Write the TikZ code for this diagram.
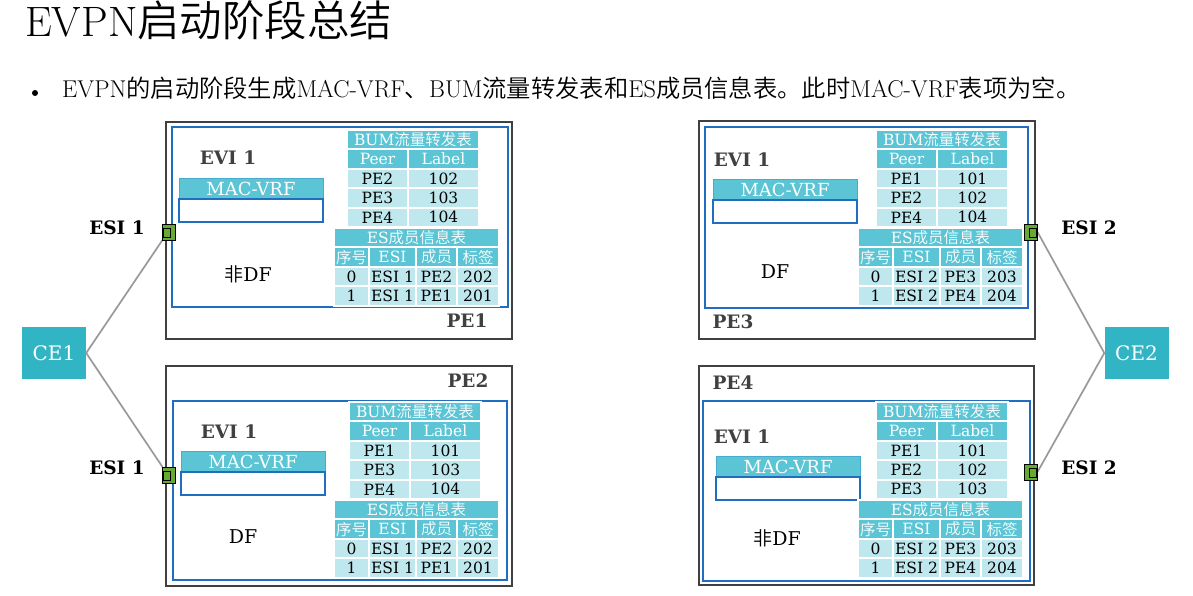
\documentclass[tikz,border=0pt]{standalone}
\usepackage{fontspec}
\newfontfamily\dvs{DejaVu Serif}
\IfFontExistsTF{Noto Sans CJK SC DemiLight}
  {\newfontfamily\cjk{Noto Sans CJK SC DemiLight}}
  {\newfontfamily\cjk{Noto Sans CJK SC Light}}
\usetikzlibrary{positioning}

\definecolor{headteal}{HTML}{5BC5D5}
\definecolor{lightteal}{HTML}{BEE8EE}
\definecolor{ceteal}{HTML}{31B5C4}
\definecolor{evpnblue}{HTML}{1F6EC0}
\definecolor{boxgray}{HTML}{404040}
\definecolor{portgreen}{HTML}{66AA33}
\definecolor{linkgray}{HTML}{999999}

\tikzset{
  outerbox/.style={draw=boxgray, line width=1.2pt},
  innerbox/.style={draw=evpnblue, line width=1.2pt},
  hcell/.style={fill=headteal, draw=white, line width=2pt, text=white, inner sep=0pt,
    outer sep=0pt, minimum height=19.4pt, font=\dvs\fontsize{15.5}{17}\selectfont},
  dcell/.style={hcell, fill=lightteal, text=black},
  vrfhead/.style={fill=headteal, draw=headteal!70!evpnblue, line width=0.8pt, text=white,
    inner sep=0pt, outer sep=0pt, minimum width=144pt, minimum height=21pt,
    font=\dvs\fontsize{18}{20}\selectfont},
  vrfbody/.style={draw=evpnblue, line width=1.2pt, inner sep=0pt, outer sep=0pt,
    minimum width=144pt, minimum height=23pt},
  devlabel/.style={text=boxgray, font=\dvs\bfseries\fontsize{18.5}{20}\selectfont},
  esilabel/.style={text=black, font=\dvs\bfseries\fontsize{18.5}{20}\selectfont},
  dflabel/.style={text=black, font=\dvs\fontsize{19}{22}\selectfont},
  ce/.style={fill=ceteal, text=white, minimum width=64pt, minimum height=52pt,
    font=\dvs\fontsize{20}{24}\selectfont},
  port/.style={fill=portgreen, draw=black, line width=0.8pt, minimum width=13pt,
    minimum height=16pt, inner sep=0pt, outer sep=0pt},
  link/.style={draw=linkgray, line width=1.7pt}
}

% BUM forwarding table: name, x, y, then three peer/label pairs
\newcommand\bumtable[9]{%
  \node[hcell, minimum width=132pt, anchor=north west] (#1-h) at (#2,#3) {BUM{\cjk 流量转发表}};
  \node[hcell, minimum width=61pt, anchor=north west] (#1-c1) at (#1-h.south west) {Peer};
  \node[hcell, minimum width=71pt, right=0pt of #1-c1] (#1-c2) {Label};
  \node[dcell, minimum width=61pt, below=0pt of #1-c1] (#1-p1) {#4};
  \node[dcell, minimum width=71pt, right=0pt of #1-p1] (#1-l1) {#5};
  \node[dcell, minimum width=61pt, below=0pt of #1-p1] (#1-p2) {#6};
  \node[dcell, minimum width=71pt, right=0pt of #1-p2] (#1-l2) {#7};
  \node[dcell, minimum width=61pt, below=0pt of #1-p2] (#1-p3) {#8};
  \node[dcell, minimum width=71pt, right=0pt of #1-p3] (#1-l3) {#9};
}

% ES member table: name, x, y, esi, member/label of rows 0 and 1
\newcommand\estable[8]{%
  \node[hcell, minimum width=165pt, anchor=north west] (#1-h) at (#2,#3) {ES{\cjk 成员信息表}};
  \node[hcell, minimum width=35pt, anchor=north west] (#1-c1) at (#1-h.south west) {\cjk 序号};
  \node[hcell, minimum width=47pt, right=0pt of #1-c1] (#1-c2) {ESI};
  \node[hcell, minimum width=41pt, right=0pt of #1-c2] (#1-c3) {\cjk 成员};
  \node[hcell, minimum width=42pt, right=0pt of #1-c3] (#1-c4) {\cjk 标签};
  \node[dcell, minimum width=35pt, below=0pt of #1-c1] (#1-a1) {0};
  \node[dcell, minimum width=47pt, right=0pt of #1-a1] (#1-b1) {#4};
  \node[dcell, minimum width=41pt, right=0pt of #1-b1] (#1-m1) {#5};
  \node[dcell, minimum width=42pt, right=0pt of #1-m1] (#1-t1) {#6};
  \node[dcell, minimum width=35pt, below=0pt of #1-a1] (#1-a2) {1};
  \node[dcell, minimum width=47pt, right=0pt of #1-a2] (#1-b2) {#4};
  \node[dcell, minimum width=41pt, right=0pt of #1-b2] (#1-m2) {#7};
  \node[dcell, minimum width=42pt, right=0pt of #1-m2] (#1-t2) {#8};
}

% MAC-VRF box: name, x, y
\newcommand\macvrf[3]{%
  \node[vrfhead, anchor=north west] (#1-h) at (#2,#3) {MAC-VRF};
  \node[vrfbody, below=0pt of #1-h] (#1-b) {};
}

\begin{document}
\begin{tikzpicture}[x=1pt, y=-1pt]
  \useasboundingbox (0,0) rectangle (1193,596);

  % heading
  \node[anchor=base west, inner sep=0pt] (title) at (25,37)
    {\fontsize{42.5}{48}\selectfont EVPN{\cjk 启动阶段总结}};
  \fill (35,93) circle (3);
  \node[anchor=base west, inner sep=0pt] (summary) at (62,98)
    {\fontsize{24.3}{28}\selectfont EVPN{\cjk 的启动阶段生成}MAC-VRF{\cjk 、}BUM{\cjk 流量转发表和}ES{\cjk 成员信息表。此时}MAC-VRF{\cjk 表项为空。}};

  % PE1
  \draw[outerbox] (166,122) rectangle (512,339);
  \draw[innerbox] (172,127) rectangle (508,307);
  \node[devlabel] (evi1) at (228,158) {EVI 1};
  \macvrf{vrf1}{179}{178}
  \bumtable{bum1}{347}{130}{PE2}{102}{PE3}{103}{PE4}{104}
  \estable{es1}{334}{228}{ESI 1}{PE2}{202}{PE1}{201}
  \node[dflabel] (df1) at (248,274) {{\cjk 非}DF};
  \node[devlabel] (pe1) at (467,321) {PE1};

  % PE2
  \draw[outerbox] (166,366) rectangle (512,586);
  \draw[innerbox] (173,401) rectangle (507,580);
  \node[devlabel] (pe2) at (468,381) {PE2};
  \node[devlabel] (evi2) at (229,432) {EVI 1};
  \macvrf{vrf2}{181}{451}
  \bumtable{bum2}{349}{402}{PE1}{101}{PE3}{103}{PE4}{104}
  \estable{es2}{334}{500}{ESI 1}{PE2}{202}{PE1}{201}
  \node[dflabel] (df2) at (243,537) {DF};

  % PE3
  \draw[outerbox] (699,121) rectangle (1035,339);
  \draw[innerbox] (705,127) rectangle (1028,308);
  \node[devlabel] (evi3) at (742,160) {EVI 1};
  \macvrf{vrf3}{713}{179}
  \bumtable{bum3}{876}{130}{PE1}{101}{PE2}{102}{PE4}{104}
  \estable{es3}{858}{228}{ESI 2}{PE3}{203}{PE4}{204}
  \node[dflabel] (df3) at (775,272) {DF};
  \node[devlabel] (pe3) at (733,322) {PE3};

  % PE4
  \draw[outerbox] (699,366) rectangle (1034,585);
  \draw[innerbox] (703,401) rectangle (1030,581);
  \node[devlabel] (pe4) at (733,383) {PE4};
  \node[devlabel] (evi4) at (742,437) {EVI 1};
  \macvrf{vrf4}{716}{456}
  \bumtable{bum4}{876}{402}{PE1}{101}{PE2}{102}{PE3}{103}
  \estable{es4}{858}{500}{ESI 2}{PE3}{203}{PE4}{204}
  \node[dflabel] (df4) at (777,538) {{\cjk 非}DF};

  % CEs and their links
  \node[ce] (ce1) at (54,353) {CE1};
  \node[ce] (ce2) at (1136.5,353) {CE2};
  \node[port] (p1) at (169,232) {};
  \node[port] (p2) at (169,475) {};
  \node[port] (p3) at (1031,232) {};
  \node[port] (p4) at (1031,472) {};
  \draw[link] (ce1.east) -- (p1.south west);
  \draw[link] (ce1.east) -- (p2.north west);
  \draw[link] (ce2.west) -- (p3.east);
  \draw[link] (ce2.west) -- (p4.east);
  \node[port] at (p1) {};
  \node[port] at (p2) {};
  \node[port] at (p3) {};
  \node[port] at (p4) {};
  \draw[line width=0.8pt] ([xshift=1pt,yshift=-4pt]p1.north west) rectangle ([xshift=-5pt,yshift=3pt]p1.south east);
  \draw[line width=0.8pt] ([xshift=1pt,yshift=-4pt]p2.north west) rectangle ([xshift=-5pt,yshift=3pt]p2.south east);
  \draw[line width=0.8pt] ([xshift=5pt,yshift=-4pt]p3.north west) rectangle ([xshift=-1pt,yshift=3pt]p3.south east);
  \draw[line width=0.8pt] ([xshift=5pt,yshift=-4pt]p4.north west) rectangle ([xshift=-1pt,yshift=3pt]p4.south east);
  \node[esilabel] (esi1a) at (117,228) {ESI 1};
  \node[esilabel] (esi1b) at (117,468) {ESI 1};
  \node[esilabel] (esi2a) at (1089,228) {ESI 2};
  \node[esilabel] (esi2b) at (1089,468) {ESI 2};
\end{tikzpicture}
\end{document}
